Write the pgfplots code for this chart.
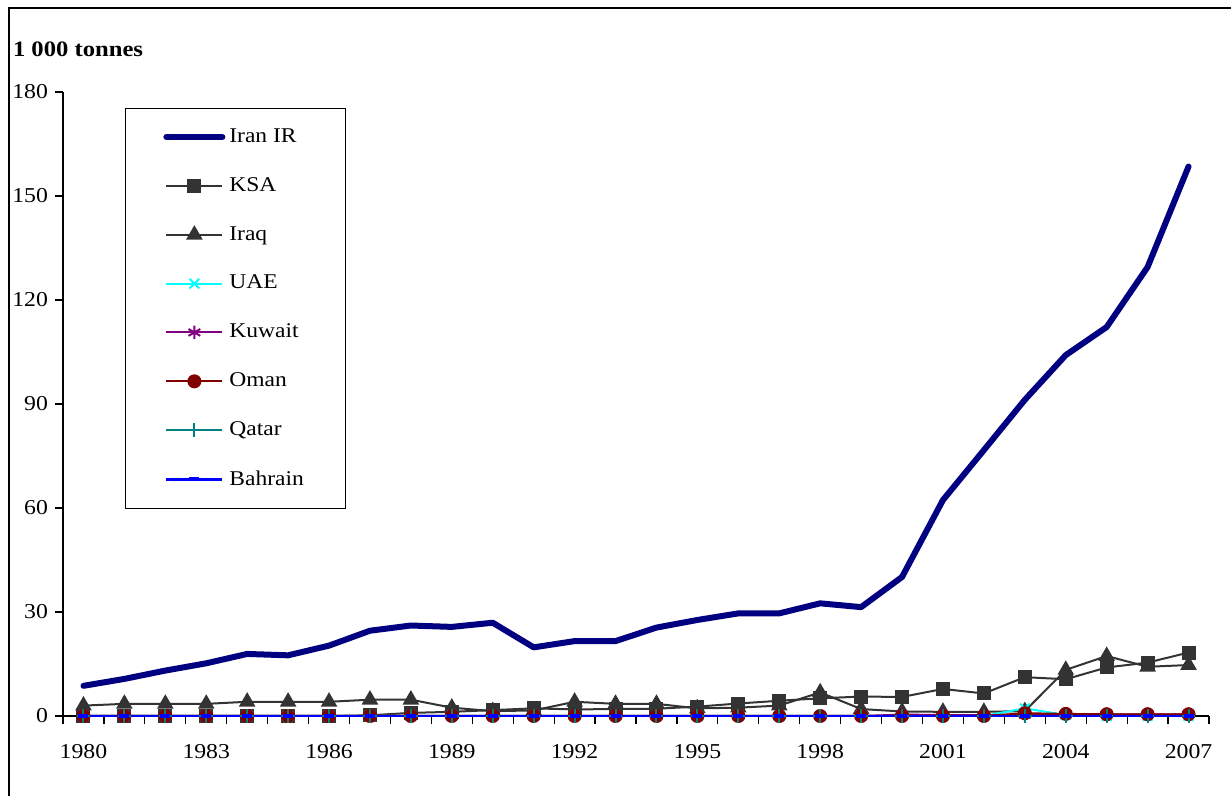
\documentclass[border=0pt]{standalone}
\usepackage{fontspec}
\setmainfont{Liberation Serif}[FakeStretch=1.12]
\usepackage{pgfplots}
\usepackage{pgfplotstable}
\pgfplotsset{compat=1.18}

\definecolor{irancol}{RGB}{0,0,128}
\definecolor{darkgr}{RGB}{51,51,51}
\definecolor{uaecol}{RGB}{0,255,255}
\definecolor{kuwcol}{RGB}{128,0,128}
\definecolor{omancol}{RGB}{128,0,0}
\definecolor{qatcol}{RGB}{0,128,128}
\definecolor{bahcol}{RGB}{0,0,255}

% 1 000 tonnes
\pgfplotstableread{
year  iran   ksa   iraq  uae  kuwait oman qatar bahrain
1980  8.7    0     3.0   0    0      0    0     0
1981  10.7   0     3.5   0    0      0    0     0
1982  13.1   0     3.5   0    0      0    0     0
1983  15.2   0     3.5   0    0      0    0     0
1984  17.9   0     4.1   0    0      0    0     0
1985  17.5   0     4.1   0    0      0    0     0
1986  20.3   0     4.1   0    0      0    0     0
1987  24.6   0.2   4.7   0    0      0    0     0
1988  26.1   0.9   4.7   0    0      0    0     0
1989  25.7   1.2   2.4   0    0      0    0     0
1990  26.9   1.7   1.4   0    0      0    0     0
1991  19.8   2.2   1.6   0    0      0    0     0
1992  21.6   1.9   4.1   0    0      0    0     0
1993  21.6   2.0   3.5   0    0      0    0     0
1994  25.5   2.1   3.5   0    0      0    0     0
1995  27.7   2.7   2.2   0    0      0    0     0
1996  29.6   3.6   2.4   0    0      0    0     0
1997  29.6   4.4   3.0   0    0      0    0     0
1998  32.5   5.1   6.8   0    0      0    0     0
1999  31.4   5.6   2.0   0    0      0    0     0
2000  40.1   5.5   1.3   0    0.4    0    0     0
2001  62.3   7.8   1.2   0    0.3    0    0     0
2002  76.7   6.5   1.2   0    0.2    0    0     0
2003  91.2   11.2  1.4   2.2  0.4    0.8  0     0
2004  104.1  10.6  13.3  0.3  0.5    0.6  0     0
2005  112.2  14.0  17.3  0    0.5    0.5  0     0
2006  129.5  15.4  14.2  0    0.5    0.5  0     0
2007  158.5  18.3  14.7  0    0.5    0.5  0     0
}\gulfdata

\begin{document}
\begin{tikzpicture}
\path[use as bounding box] (0,0) rectangle (615.5pt,398pt);
\draw[line width=1.2pt] (4.5pt,-2pt) -- (4.5pt,394pt) -- (618pt,394pt);
\node[anchor=base west, inner sep=0pt, font=\fontsize{11}{13}\selectfont\bfseries]
  at (6.3pt,369.5pt) {1 000 tonnes};
\begin{axis}[
    at={(31.5pt,40pt)}, anchor=south west,
    scale only axis, width=573pt, height=312pt,
    xmin=1979.5, xmax=2007.5, ymin=0, ymax=180,
    axis lines=left, axis line style={-, black, line width=0.6pt},
    clip=false,
    xtick={1980,1983,...,2007},
    minor xtick={1979.5,1980.5,...,2007.5},
    ytick={0,30,...,180},
    tick align=outside,
    major tick length=4pt, minor tick length=4pt,
    major x tick style={draw=none},
    minor x tick style={black, line width=0.6pt},
    major y tick style={black, line width=0.6pt},
    xticklabel style={yshift=-6.5pt},
    /pgf/number format/1000 sep={},
    /pgf/number format/assume math mode=true,
    tick label style={font=\fontsize{10.6}{12.5}\selectfont},
    every axis plot/.append style={line width=1pt},
    mark options={solid},
    legend style={at={(axis description cs:0.054,0.974)}, anchor=north west,
        draw=black, line width=0.5pt, font=\fontsize{10.5}{12.5}\selectfont,
        inner xsep=19pt, inner ysep=8pt, row sep=12pt,
        legend cell align=left},
    legend image code/.code={\draw[mark repeat=2,mark phase=2]
        plot coordinates {(0pt,0pt) (14pt,0pt) (28pt,0pt)};},
]
\addplot[irancol, line width=3pt, line cap=round, line join=round, no markers]
  table[x=year, y=iran] {\gulfdata};
\addplot[darkgr, mark=square*, mark size=3pt, mark options={fill=darkgr}]
  table[x=year, y=ksa] {\gulfdata};
\addplot[darkgr, mark=triangle*, mark size=3.8pt, mark options={fill=darkgr}]
  table[x=year, y=iraq] {\gulfdata};
\addplot[uaecol, mark=x, mark size=3.4pt]
  table[x=year, y=uae] {\gulfdata};
\addplot[kuwcol, mark=asterisk, mark size=3.4pt]
  table[x=year, y=kuwait] {\gulfdata};
\addplot[omancol, mark=*, mark size=3pt, mark options={fill=omancol}]
  table[x=year, y=oman] {\gulfdata};
\addplot[qatcol, mark=+, mark size=3.4pt]
  table[x=year, y=qatar] {\gulfdata};
\addplot[bahcol, line width=1.3pt, mark=-, mark size=2.5pt, mark options={line width=2pt}]
  table[x=year, y=bahrain] {\gulfdata};
\legend{Iran IR, KSA, Iraq, UAE, Kuwait, Oman, Qatar, Bahrain}
\end{axis}
\end{tikzpicture}
\end{document}
